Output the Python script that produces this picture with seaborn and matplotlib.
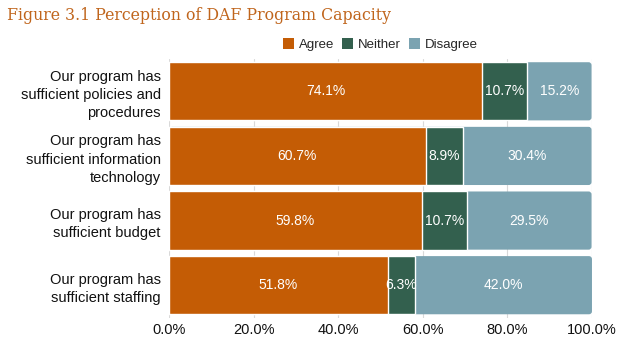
import matplotlib
matplotlib.use("Agg")
import matplotlib.pyplot as plt
from matplotlib.patches import FancyBboxPatch, Patch
import seaborn as sns
import pandas as pd
import numpy as np

categories = [
    "Our program has\nsufficient policies and\nprocedures",
    "Our program has\nsufficient information\ntechnology",
    "Our program has\nsufficient budget",
    "Our program has\nsufficient staffing",
]
agree = [74.1, 60.7, 59.8, 51.8]
neither = [10.7, 8.9, 10.7, 6.3]
disagree = [15.2, 30.4, 29.5, 42.0]
x_ticks = [0, 20, 40, 60, 80, 100]

c_agree = "#C45C05"
c_neither = "#33604E"
c_disagree = "#7BA3B1"

sns.set_theme(style="white")
plt.rcParams["font.family"] = ["Liberation Sans", "DejaVu Sans"]

df = pd.DataFrame({
    "category": categories,
    "agree": agree,
    "neither": neither,
    "disagree": disagree,
})
df["cum_neither"] = df["agree"] + df["neither"]
df["cum_all"] = df["cum_neither"] + df["disagree"]

fig = plt.figure(figsize=(6.24, 3.47), dpi=100)
ax = fig.add_axes([0.271, 0.085, 0.677, 0.745])
ax.set_xlim(0, 100)
ax.set_ylim(3.5, -0.5)

outer = []
for col, color in [("cum_all", c_disagree),
                   ("cum_neither", c_neither),
                   ("agree", c_agree)]:
    before = len(ax.patches)
    sns.barplot(data=df, x=col, y="category", color=color, width=0.9,
                orient="h", ax=ax, saturation=1, zorder=3)
    if col == "cum_all":
        outer = [p for p in ax.patches[before:] if p.get_width() > 0]

ax.set_xlim(0, 100)
ax.set_ylim(3.5, -0.5)

# give the outer (Disagree) bars softly rounded ends
n = len(categories)
bbox = ax.get_position()
px_x = 100 / (bbox.width * fig.get_figwidth() * fig.dpi)
px_y = 4 / (bbox.height * fig.get_figheight() * fig.dpi)
for p in outer:
    x0, y0 = p.get_x(), p.get_y()
    w, h = p.get_width(), p.get_height()
    r = FancyBboxPatch((x0, y0), w, h,
                       boxstyle=f"round,pad=0,rounding_size={3 * px_x}",
                       mutation_aspect=px_y / px_x,
                       facecolor=c_disagree, edgecolor="none", zorder=2)
    p.set_visible(False)
    ax.add_patch(r)

# value labels centred in each segment
for i in range(n):
    starts = [0, agree[i], agree[i] + neither[i]]
    vals = [agree[i], neither[i], disagree[i]]
    for s, v in zip(starts, vals):
        ax.text(s + v / 2, i, f"{v:.1f}%", ha="center", va="center",
                color="white", fontsize=10, zorder=5)

ax.set_xticks(x_ticks)
ax.set_xticklabels([f"{t:.1f}%" for t in x_ticks], fontsize=10.5, color="#111111")
ax.tick_params(axis="y", labelsize=10.5, labelcolor="#111111", length=0, pad=6)
ax.tick_params(axis="x", length=0, pad=4)
for lbl in ax.get_yticklabels():
    lbl.set_horizontalalignment("right")
    lbl.set_multialignment("right")
    lbl.set_linespacing(1.4)
ax.set_xlabel("")
ax.set_ylabel("")
ax.grid(axis="x", color="#D9D9D9", linewidth=0.8, zorder=0)
ax.set_axisbelow(True)
for sp in ax.spines.values():
    sp.set_visible(False)

legend_handles = [Patch(facecolor=c, edgecolor="none") for c in (c_agree, c_neither, c_disagree)]
ax.legend(legend_handles, ["Agree", "Neither", "Disagree"],
          loc="lower center", bbox_to_anchor=(0.5, 1.0), ncol=3, frameon=False,
          fontsize=9.5, handlelength=0.85, handleheight=0.85, handletextpad=0.35,
          columnspacing=0.6, borderaxespad=0.2)

fig.text(0.011, 0.955, "Figure 3.1 Perception of DAF Program Capacity",
         family=["DejaVu Serif"], fontsize=11.3, color="#C0651C", va="center")

fig.savefig("out.png", dpi=100)
